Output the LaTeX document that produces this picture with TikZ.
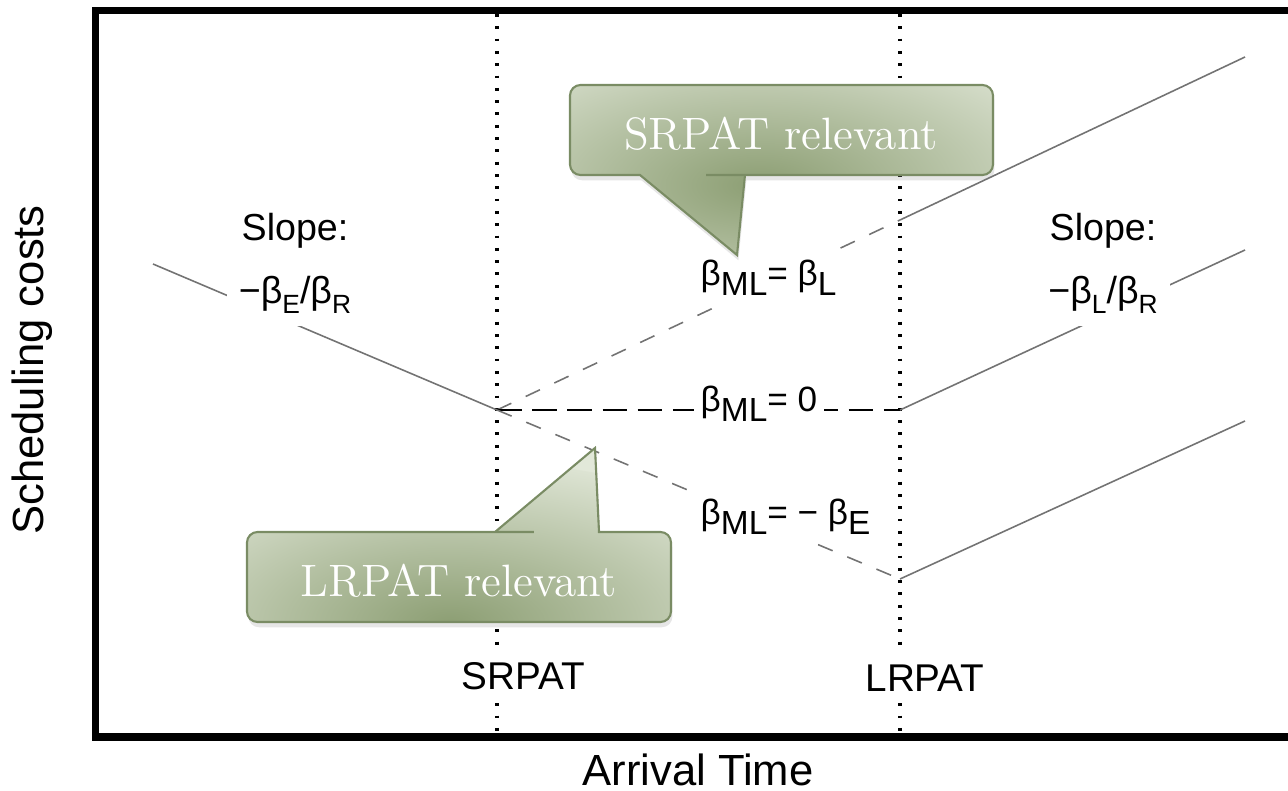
\documentclass[tikz,border=0pt]{standalone}
\usepackage{fontspec}
\usepackage{tikz}
\usetikzlibrary{shadows}

\newfontfamily\plotfont{Liberation Sans}
\definecolor{bubbledark}{RGB}{140,158,115}
\definecolor{bubblelight}{RGB}{226,232,217}
\definecolor{bubbleedge}{RGB}{122,140,100}
\newcommand{\lo}[2][7.5]{\raisebox{-3pt}{\fontsize{#1}{#1}\selectfont #2}}

\begin{document}
\begin{tikzpicture}[x=0.01cm, y=-0.01cm,
	frame/.style={draw=black, line width=2pt},
	marker/.style={draw=black, line width=0.9pt, dash pattern=on 0.8pt off 2.7pt},
	curve/.style={draw=black!55, line width=0.45pt},
	curvedash/.style={curve, dash pattern=on 4.5pt off 4.5pt},
	zero/.style={draw=black, line width=0.7pt, dash pattern=on 7pt off 3pt},
	axis/.style={font=\plotfont\fontsize{12.4}{14}\selectfont, inner sep=0pt},
	tick/.style={font=\plotfont\fontsize{11}{13}\selectfont, fill=white, inner sep=3pt},
	slope/.style={font=\plotfont\fontsize{10.7}{13}\selectfont, fill=white, inner sep=3.5pt},
	lbl/.style={font=\plotfont\fontsize{10}{12}\selectfont, fill=white, inner sep=2pt},
	bubble/.style={draw=bubbleedge, line width=0.6pt, fill=bubblelight,
		drop shadow={shadow xshift=0.4pt, shadow yshift=-1.5pt, opacity=0.2},
		path picture={\shade[inner color=bubbledark, outer color=bubblelight] (#1) ellipse [x radius=380, y radius=170];}},
	bubbletext/.style={text=white, font=\fontsize{12.9}{15}\selectfont}]

	\useasboundingbox (0,0) rectangle (1288,791);

	\coordinate (srTop) at (497,14);
	\coordinate (srBot) at (497,733);
	\coordinate (lrTop) at (900,14);
	\coordinate (lrBot) at (900,733);

	\coordinate (startE) at (153,264);
	\coordinate (sr)     at (497,410);
	\coordinate (lrU)    at (900,220);
	\coordinate (lr0)    at (900,410);
	\coordinate (lrL)    at (900,579);
	\coordinate (endU)   at (1245,57);
	\coordinate (endM)   at (1245,250);
	\coordinate (endL)   at (1245,421);

	\draw[frame] (1288,10.5) -- (95.5,10.5) -- (95.5,737) -- (1288,737);

	\draw[marker] (srTop) -- (srBot);
	\draw[marker] (lrTop) -- (lrBot);

	\draw[curve] (startE) -- (sr);
	\draw[curvedash] (sr) -- (lrU);
	\draw[curve] (lrU) -- (endU);
	\draw[zero] (sr) -- (lr0);
	\draw[curve] (lr0) -- (endM);
	\draw[curvedash] (sr) -- (lrL);
	\draw[curve] (lrL) -- (endL);

	\node[axis, rotate=90, anchor=base] (ylab) at (43,370)  {Scheduling costs};
	\node[axis, anchor=base]            (xlab) at (698,785) {Arrival Time};

	\node[tick, anchor=base] (srlab) at (523,689) {SRPAT};
	\node[tick, anchor=base] (lrlab) at (925,691) {LRPAT};

	\node[slope, anchor=base] (slopeE) at (295,240)  {Slope:};
	\node[slope, anchor=base] (fracE)  at (295,303)  {−β\lo{E}/β\lo{R}};
	\node[slope, anchor=base] (slopeL) at (1103,240) {Slope:};
	\node[slope, anchor=base] (fracL)  at (1103,303) {−β\lo{L}/β\lo{R}};

	\node[lbl, anchor=base west] (mlL) at (693,285) {β\lo[9.5]{ML}= β\lo[9.5]{L}};
	\node[lbl, anchor=base west] (ml0) at (693,411) {β\lo[9.5]{ML}= 0};
	\node[lbl, anchor=base west] (mlE) at (693,524) {β\lo[9.5]{ML}= − β\lo[9.5]{E}};

	\path[bubble={760,185}] (700,175) -- (745,175) -- (737,255) -- (640,175) -- (600,175)
		[rounded corners=3pt] -- (570,175) -- (570,85) -- (993,85) -- (993,175) -- cycle;
	\node[bubbletext] (srnote) at (781,134) {SRPAT relevant};

	\path[bubble={450,630}] (540,532) -- (495,532) -- (595,448) -- (599,532) -- (640,532)
		[rounded corners=3pt] -- (671,532) -- (671,622) -- (247,622) -- (247,532) -- cycle;
	\node[bubbletext] (lrnote) at (459,581) {LRPAT relevant};

\end{tikzpicture}
\end{document}
